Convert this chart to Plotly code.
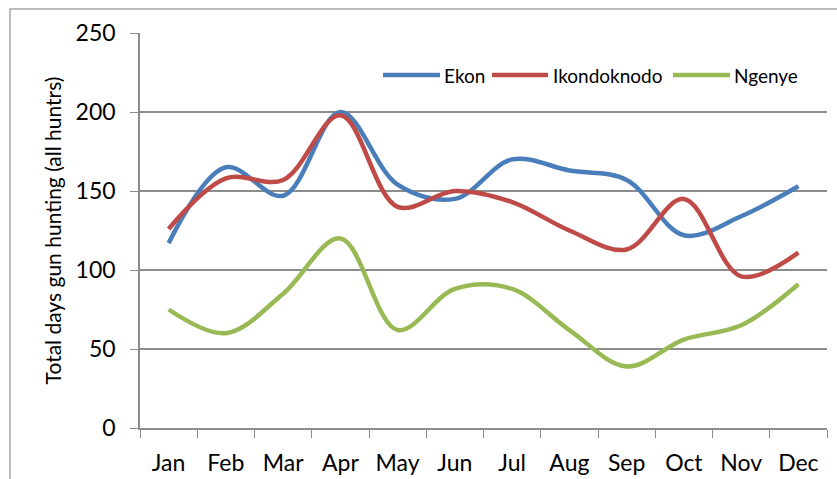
import plotly.graph_objects as go

months = ["Jan", "Feb", "Mar", "Apr", "May", "Jun", "Jul", "Aug", "Sep", "Oct", "Nov", "Dec"]
ekon = [117, 165, 147, 200, 154, 145, 170, 163, 157, 122, 134, 153]
ikondoknodo = [126, 158, 157, 198, 140, 150, 143, 125, 113, 145, 96, 111]
ngenye = [75, 60, 85, 120, 62, 88, 88, 62, 39, 56, 65, 91]

series = [
    ("Ekon", ekon, "#4A7EBB"),
    ("Ikondoknodo", ikondoknodo, "#BE4B48"),
    ("Ngenye", ngenye, "#98B954"),
]

FONT = "Lato, 'Open Sans', sans-serif"

# plot area in pixels, used to place the hand-built legend in paper units
L, R, T, B = 140, 827, 33, 428
def px_x(p):
    return (p - L) / (R - L)
def px_y(p):
    return (B - p) / (B - T)

fig = go.Figure()
for name, vals, color in series:
    fig.add_trace(go.Scatter(
        x=months, y=vals, name=name, mode="lines",
        line=dict(color=color, width=4.5, shape="spline", smoothing=1.0),
        showlegend=False,
    ))

# legend: long line swatch followed by the series name
legend_items = [(383, 440, 442), (492, 548, 551), (673, 730, 732)]
shapes = []
annotations = []
ly = px_y(75)
for (name, _, color), (x0, x1, tx) in zip(series, legend_items):
    shapes.append(dict(type="line", xref="paper", yref="paper",
                       x0=px_x(x0), x1=px_x(x1), y0=ly, y1=ly,
                       line=dict(color=color, width=4.5)))
    annotations.append(dict(xref="paper", yref="paper", x=px_x(tx), y=ly,
                            xanchor="left", yanchor="middle", showarrow=False,
                            text=name, font=dict(size=19, family=FONT, color="black")))

# outer chart border
shapes.append(dict(
    type="rect", xref="paper", yref="paper",
    x0=px_x(10), x1=1.2, y0=-0.3, y1=px_y(9),
    line=dict(color="#a6a6a6", width=1.5), fillcolor="rgba(0,0,0,0)", layer="below",
))

grid = "#8c8c8c"
fig.update_layout(
    width=837, height=479,
    margin=dict(l=L, r=837 - R, t=T, b=479 - B, autoexpand=False),
    paper_bgcolor="white", plot_bgcolor="white",
    font=dict(family=FONT, color="black"),
    showlegend=False,
    xaxis=dict(
        type="category", tickson="boundaries", ticks="outside", ticklen=8,
        tickcolor=grid, showline=True, linecolor=grid, linewidth=1.5,
        showgrid=False, tickfont=dict(size=23), ticklabelstandoff=14,
        range=[-0.5, 11.5], fixedrange=True, automargin=False,
    ),
    yaxis=dict(
        range=[0, 250], tickvals=[0, 50, 100, 150, 200, 250],
        ticks="outside", ticklen=8, tickcolor=grid,
        showline=True, linecolor=grid, linewidth=1.5,
        showgrid=True, gridcolor=grid, gridwidth=1.5,
        zeroline=False, tickfont=dict(size=23), ticklabelstandoff=10,
        automargin=False,
        title=dict(text="Total days gun hunting (all huntrs)", font=dict(size=21), standoff=8),
    ),
    shapes=shapes,
    annotations=annotations,
)

fig.write_html("out.html")
